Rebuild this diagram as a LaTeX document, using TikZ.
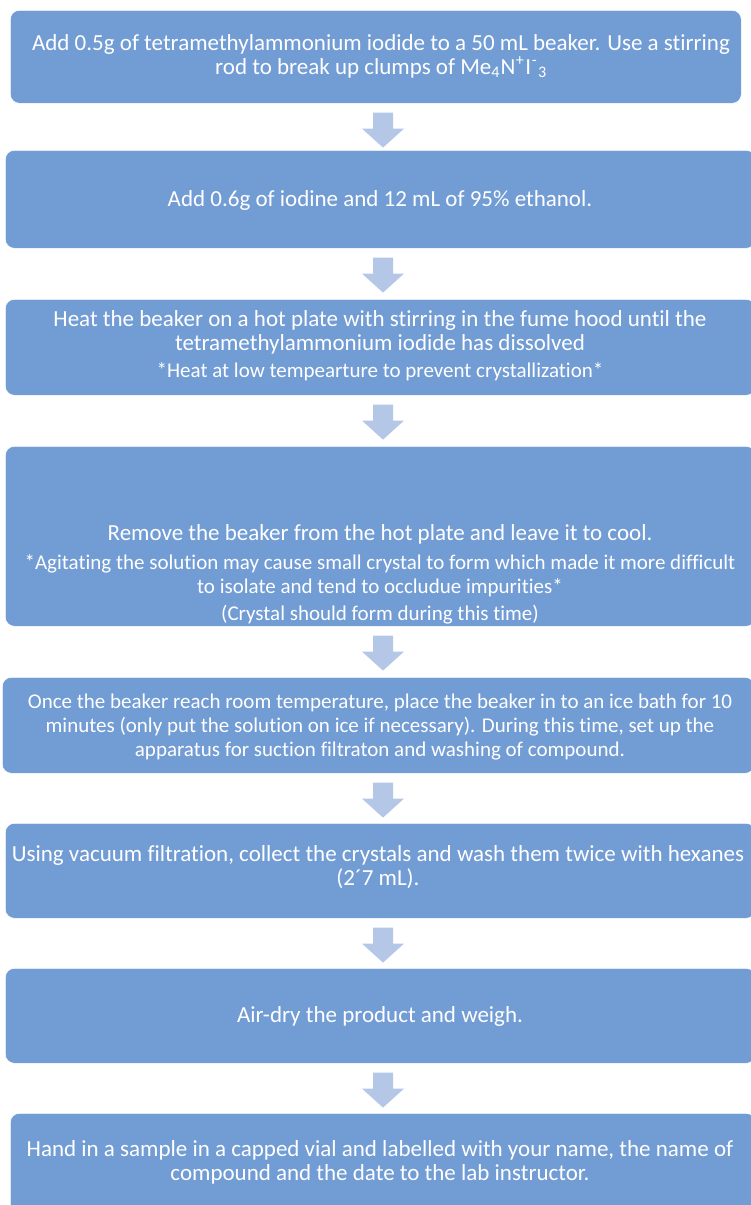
\documentclass[tikz,border=0pt]{standalone}
\usepackage{fontspec}
\setmainfont[Ligatures=NoCommon]{Carlito}
\usetikzlibrary{calc}
\definecolor{boxblue}{RGB}{114,156,212}
\definecolor{arrowblue}{RGB}{180,199,231}
\newcommand\smalltext{\fontsize{21}{23}\selectfont}
\tikzset{
  stepbox/.style={fill=boxblue, draw=white, line width=0.6pt, rounded corners=9pt, anchor=north west, inner sep=0pt},
  steptext/.style={text=white, align=center, inner sep=0pt, font=\fontsize{23}{24}\selectfont},
  flowarrow/.style={fill=arrowblue, draw=none}
}
\newcommand\blockarrow[1]{%
  \fill[flowarrow] ($(#1.south -| ax)+(-10,9)$) -- ++(20,0) -- ++(0,16) -- ++(11,0)
     -- ++(-21,19) -- ++(-21,-19) -- ++(11,0) -- cycle;}
\begin{document}
\begin{tikzpicture}[x=1pt,y=-1pt]
\useasboundingbox (0,0) rectangle (751,1205);
\coordinate (ax) at (383,0);
% boxes
\node[stepbox, minimum width=731, minimum height=93] (b1) at (10,10) {};
\node[stepbox, minimum width=750, minimum height=98] (b2) at (5,150) {};
\node[stepbox, minimum width=750, minimum height=96] (b3) at (5,299) {};
\node[stepbox, minimum width=750, minimum height=180] (b4) at (5,446) {};
\node[stepbox, minimum width=752, minimum height=96] (b5) at (2,677) {};
\node[stepbox, minimum width=750, minimum height=95] (b6) at (5,823) {};
\node[stepbox, minimum width=750, minimum height=95] (b7) at (5,968) {};
\node[stepbox, minimum width=745, minimum height=100] (b8) at (10,1113) {};
% texts
\node[steptext] (t1) at (381,56) {Add 0.5g of tetramethylammonium iodide to a 50 mL beaker. Use a stirring\\ rod to break up clumps of Me\textsubscript{4}\kern0.5pt N\kern0.5pt\textsuperscript{+}\kern0.8pt I\kern0.8pt\textsuperscript{-}\kern0.8pt\textsubscript{3}};
\node[steptext] (t2) at (380,200) {Add 0.6g of iodine and 12 mL of 95\% ethanol.};
\node[steptext] (t3) at (380,346) {Heat the beaker on a hot plate with stirring in the fume hood until the\\ tetramethylammonium iodide has dissolved\\[3pt] {\smalltext *Heat at low tempearture to prevent crystallization*}};
\node[steptext] (t4) at (380,574) {Remove the beaker from the hot plate and leave it to cool.\\[5pt]
 {\smalltext *Agitating the solution may cause small crystal to form which made it more difficult}\\
 {\smalltext to isolate and tend to occludue impurities*}\\[3pt]
 {\smalltext (Crystal should form during this time)}};
\node[steptext, font=\fontsize{21}{24}\selectfont] (t5) at (380,727) {Once the beaker reach room temperature, place the beaker in to an ice bath for 10\\ minutes (only put the solution on ice if necessary). During this time, set up the\\ apparatus for suction filtraton and washing of compound.};
\node[steptext] (t6) at (378,867) {Using vacuum filtration, collect the crystals and wash them twice with hexanes\\ (2´7 mL).};
\node[steptext] (t7) at (380,1016) {Air-dry the product and weigh.};
\node[steptext] (t8) at (380,1162) {Hand in a sample in a capped vial and labelled with your name, the name of\\ compound and the date to the lab instructor.};
% arrows
\blockarrow{b1}
\blockarrow{b2}
\blockarrow{b3}
\blockarrow{b4}
\blockarrow{b5}
\blockarrow{b6}
\blockarrow{b7}
\end{tikzpicture}
\end{document}
